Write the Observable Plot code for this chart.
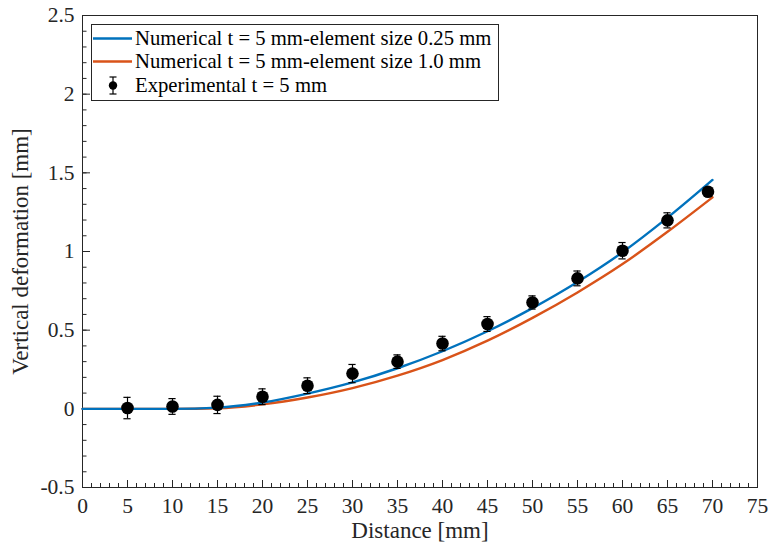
<!DOCTYPE html>
<html><head><meta charset="utf-8">
<script src="https://cdn.jsdelivr.net/npm/d3@7"></script>
<script src="https://cdn.jsdelivr.net/npm/@observablehq/plot@0.6"></script>
<style>
body{margin:0;background:#fff;}
#wrap{position:relative;width:775px;height:550px;font-family:"Liberation Serif","Times New Roman",serif;}
#wrap svg, #wrap svg text{font-family:"Liberation Serif","Times New Roman",serif !important;}
.legend{position:absolute;left:91px;top:24px;width:406px;height:75px;border:1px solid #262626;background:#fff;}
.row{position:absolute;left:0;height:23px;width:406px;}
.row svg{position:absolute;left:0;top:0;}
.row span{position:absolute;left:43px;top:0;line-height:23px;font-size:20.7px;color:#000;white-space:nowrap;font-family:"Liberation Serif","Times New Roman",serif;}
</style></head><body><div id="wrap"></div>
<script>
// Numerical curves
const distance  = [0, 5, 10, 15, 20, 25, 30, 35, 40, 45, 50, 55, 60, 65, 70];
const numFine   = [0, 0, 0, 0.008, 0.040, 0.097, 0.168, 0.258, 0.366, 0.493, 0.640, 0.806, 0.995, 1.215, 1.455];
const numCoarse = [0, 0, 0, 0.004, 0.028, 0.072, 0.132, 0.211, 0.310, 0.433, 0.578, 0.740, 0.920, 1.125, 1.344];
// Experimental points
const expX   = [5, 10, 15, 20, 25, 30, 35, 40, 45, 50, 55, 60, 65, 69.5];
const expY   = [0.005, 0.015, 0.025, 0.077, 0.147, 0.224, 0.300, 0.415, 0.539, 0.676, 0.829, 1.005, 1.198, 1.380];
const expErr = [0.068, 0.050, 0.055, 0.050, 0.050, 0.058, 0.043, 0.046, 0.047, 0.042, 0.047, 0.052, 0.048, 0.020];
// Ticks
const xTicks = [0, 5, 10, 15, 20, 25, 30, 35, 40, 45, 50, 55, 60, 65, 70, 75];
const yTicks = [-0.5, 0, 0.5, 1, 1.5, 2, 2.5];
const xMinor = d3.range(0, 76, 1);
const yMinor = d3.range(-5, 26, 1).map(i => i / 10);
const legendLabels = ["Numerical t = 5 mm-element size 0.25 mm", "Numerical t = 5 mm-element size 1.0 mm", "Experimental t = 5 mm"];
const colors = ["#0072BD", "#D95319"];

const fine = distance.map((x, i) => ({x, y: numFine[i]}));
const coarse = distance.map((x, i) => ({x, y: numCoarse[i]}));
const exp = expX.map((x, i) => ({x, y: expY[i], e: expErr[i]}));

const W = 775, H = 550, mL = 82, mR = 18, mT = 15, mB = 63;
const pw = W - mL - mR, ph = H - mT - mB;
const axisColor = "#262626";
const serif = '"Liberation Serif","Times New Roman",serif';

const chart = Plot.plot({
  width: W, height: H,
  marginLeft: mL, marginRight: mR, marginTop: mT, marginBottom: mB,
  style: {fontFamily: serif, fontSize: "21.5px", background: "#fff", color: axisColor},
  x: {domain: [0, 75]},
  y: {domain: [-0.5, 2.5]},
  marks: [
    Plot.frame({stroke: axisColor, strokeWidth: 1}),
    // inward ticks
    Plot.tickX(xTicks, {x: d => d, insetTop: ph - 7, stroke: axisColor}),
    Plot.tickX(xMinor, {x: d => d, insetTop: ph - 4, stroke: axisColor}),
    Plot.tickY(yTicks, {y: d => d, insetRight: pw - 8, stroke: axisColor}),
    Plot.tickY(yMinor, {y: d => d, insetRight: pw - 4.5, stroke: axisColor}),
    Plot.axisX(xTicks, {tickSize: 0, tickPadding: 10, fontSize: 21.5, fontFamily: serif, tickFormat: d => String(d), label: null, color: axisColor}),
    Plot.axisY(yTicks, {tickSize: 0, tickPadding: 8, fontSize: 21.5, fontFamily: serif, tickFormat: d => String(d), label: null, color: axisColor}),
    Plot.text(["Distance [mm]"], {text: d => d, frameAnchor: "bottom", dy: 50, fontSize: 23, fontFamily: serif, fill: axisColor, textAnchor: "middle"}),
    Plot.text(["Vertical deformation [mm]"], {text: d => d, frameAnchor: "left", dx: -62, rotate: -90, fontSize: 23, fontFamily: serif, fill: axisColor, textAnchor: "middle"}),
    // lines
    Plot.line(coarse, {x: "x", y: "y", stroke: colors[1], strokeWidth: 2.4, curve: "monotone-x"}),
    Plot.line(fine, {x: "x", y: "y", stroke: colors[0], strokeWidth: 2.4, curve: "monotone-x"}),
    // error bars
    Plot.ruleX(exp, {x: "x", y1: d => d.y - d.e, y2: d => d.y + d.e, stroke: "black", strokeWidth: 1.2}),
    Plot.ruleY(exp, {y: d => d.y - d.e, x1: d => d.x - 0.4, x2: d => d.x + 0.4, stroke: "black", strokeWidth: 1.2}),
    Plot.ruleY(exp, {y: d => d.y + d.e, x1: d => d.x - 0.4, x2: d => d.x + 0.4, stroke: "black", strokeWidth: 1.2}),
    Plot.dot(exp, {x: "x", y: "y", r: 6.3, fill: "black", stroke: "none"})
  ]
});

const wrap = document.getElementById("wrap");
wrap.appendChild(chart);

// legend
const lg = document.createElement("div");
lg.className = "legend";
const tops = [2, 25, 48.5];
legendLabels.forEach((lab, i) => {
  const row = document.createElement("div");
  row.className = "row";
  row.style.top = tops[i] + "px";
  let sw;
  if (i < 2) {
    sw = `<svg width="44" height="23"><line x1="1" x2="40" y1="11.5" y2="11.5" stroke="${colors[i]}" stroke-width="2.4"/></svg>`;
  } else {
    sw = `<svg width="44" height="23"><line x1="21" x2="21" y1="3" y2="20" stroke="black" stroke-width="1.2"/><line x1="17.5" x2="24.5" y1="3" y2="3" stroke="black" stroke-width="1.2"/><line x1="17.5" x2="24.5" y1="20" y2="20" stroke="black" stroke-width="1.2"/><circle cx="21" cy="11.5" r="4.2" fill="black"/></svg>`;
  }
  row.innerHTML = sw + `<span>${lab}</span>`;
  lg.appendChild(row);
});
wrap.appendChild(lg);
</script>
</body></html>
